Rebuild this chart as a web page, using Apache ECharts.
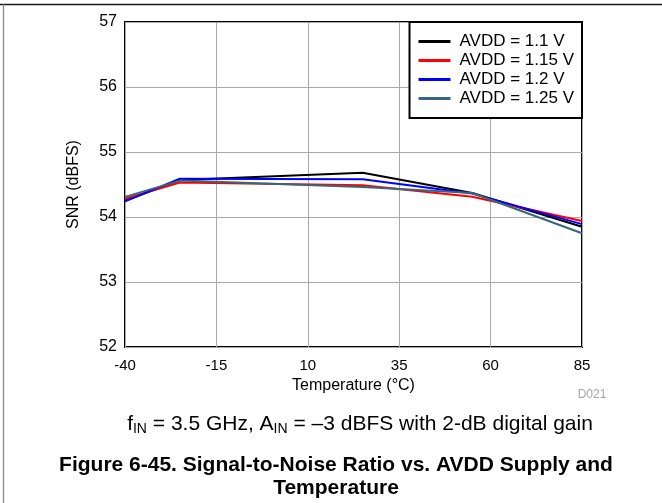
<!DOCTYPE html>
<html>
<head>
<meta charset="utf-8">
<title>SNR vs AVDD and Temperature</title>
<script src="https://cdn.jsdelivr.net/npm/echarts@6/dist/echarts.min.js"></script>
<style>
    html, body { margin: 0; padding: 0; background: #fff; }
    #chart { width: 662px; height: 503px; }
</style>
</head>
<body>
<div id="chart"></div>
<script>
// temperatures (°C) where SNR was measured
var temps = [-40, -25, 25, 55, 85];
// SNR (dBFS) per AVDD supply
var snr_1p1 = [54.25, 54.57, 54.68, 54.37, 53.85];
var snr_1p15 = [54.28, 54.53, 54.49, 54.31, 53.94];
var snr_1p2 = [54.24, 54.59, 54.58, 54.36, 53.89];
var snr_1p25 = [54.31, 54.56, 54.46, 54.37, 53.75];
var seriesNames = ['AVDD = 1.1 V', 'AVDD = 1.15 V', 'AVDD = 1.2 V', 'AVDD = 1.25 V'];
// axis ticks
var xTicks = [-40, -15, 10, 35, 60, 85];
var yTicks = [52, 53, 54, 55, 56, 57];

var FONT = '"Liberation Sans", Arial, Helvetica, sans-serif';
var colors = ['#000000', '#ff0000', '#0000ff', '#35687b'];

var renderChart = function (elm) {
    var myChart = echarts.init(document.getElementById(elm), null, {renderer: 'canvas'});
    // x axis is offset so ticks start at the first tick value
    var xOff = xTicks[0];
    var allSnr = [snr_1p1, snr_1p15, snr_1p2, snr_1p25];
    var series = [];
    for (var i = 0; i < allSnr.length; i++) {
        var pts = [];
        for (var j = 0; j < temps.length; j++) {
            pts.push([temps[j] - xOff, allSnr[i][j]]);
        }
        series.push({
            name: seriesNames[i],
            type: 'line',
            symbol: 'none',
            color: colors[i],
            lineStyle: {width: 2, color: colors[i]},
            data: pts
        });
    }

    var option = {
        animation: false,
        textStyle: {fontFamily: FONT},
        grid: {
            left: 125, right: 80, top: 22, bottom: 156,
            show: true,
            borderColor: '#000',
            borderWidth: 2,
            backgroundColor: 'transparent'
        },
        legend: {
            data: seriesNames,
            orient: 'vertical',
            right: 80,
            top: 22,
            padding: [10, 8, 10, 9],
            itemGap: 0,
            itemWidth: 32,
            itemHeight: 3,
            icon: 'rect',
            backgroundColor: '#fff',
            borderColor: '#000',
            borderWidth: 2,
            borderRadius: 0,
            textStyle: {
                fontFamily: FONT,
                fontSize: 17,
                lineHeight: 19,
                color: '#000',
                padding: [0, 0, 0, 4]
            }
        },
        xAxis: {
            type: 'value',
            min: 0,
            max: xTicks[xTicks.length - 1] - xOff,
            interval: xTicks[1] - xTicks[0],
            name: 'Temperature (°C)',
            nameLocation: 'middle',
            nameGap: 31,
            nameTextStyle: {fontFamily: FONT, fontSize: 16, color: '#000'},
            axisLine: {show: false},
            axisTick: {show: false},
            axisLabel: {
                margin: 11,
                fontFamily: FONT,
                fontSize: 15,
                color: '#000',
                formatter: function (v) { return String(v + xOff); }
            },
            splitLine: {show: true, lineStyle: {color: '#aaaaaa', width: 1}}
        },
        yAxis: {
            type: 'value',
            min: yTicks[0],
            max: yTicks[yTicks.length - 1],
            interval: 1,
            name: 'SNR (dBFS)',
            nameLocation: 'middle',
            nameRotate: 90,
            nameGap: 43,
            nameTextStyle: {fontFamily: FONT, fontSize: 16, color: '#000'},
            axisLine: {show: false},
            axisTick: {show: false},
            axisLabel: {margin: 8, fontFamily: FONT, fontSize: 16, color: '#000'},
            splitLine: {show: true, lineStyle: {color: '#aaaaaa', width: 1}}
        },
        graphic: [
            // page frame lines
            {type: 'line', silent: true, shape: {x1: 0, y1: 4.5, x2: 662, y2: 4.5},
                style: {stroke: '#1a1a1a', lineWidth: 1.3}},
            {type: 'line', silent: true, shape: {x1: 3.5, y1: 4.5, x2: 3.5, y2: 503},
                style: {stroke: '#8c8c8c', lineWidth: 1.3}},
            {type: 'text', silent: true, x: 592, y: 395,
                style: {text: 'D021', font: '12px ' + FONT, fill: '#a6a6a6',
                    textAlign: 'center', textVerticalAlign: 'middle'}},
            {type: 'text', silent: true, x: 360, y: 424,
                style: {
                    text: 'f{sub|IN} = 3.5 GHz, A{sub|IN} = –3 dBFS with 2-dB digital gain',
                    font: '21px ' + FONT,
                    fill: '#000',
                    lineHeight: 24,
                    textAlign: 'center',
                    textVerticalAlign: 'middle',
                    rich: {
                        sub: {fontSize: 14, fontFamily: FONT, lineHeight: 14, verticalAlign: 'bottom', fill: '#000'}
                    }
                }},
            {type: 'text', silent: true, x: 336, y: 465,
                style: {text: 'Figure 6-45. Signal-to-Noise Ratio vs. AVDD Supply and',
                    font: 'bold 21px ' + FONT, fill: '#000',
                    textAlign: 'center', textVerticalAlign: 'middle'}},
            {type: 'text', silent: true, x: 336, y: 488,
                style: {text: 'Temperature', font: 'bold 21px ' + FONT, fill: '#000',
                    textAlign: 'center', textVerticalAlign: 'middle'}}
        ],
        series: series
    };
    myChart.setOption(option);
};

renderChart('chart');
</script>
</body>
</html>
